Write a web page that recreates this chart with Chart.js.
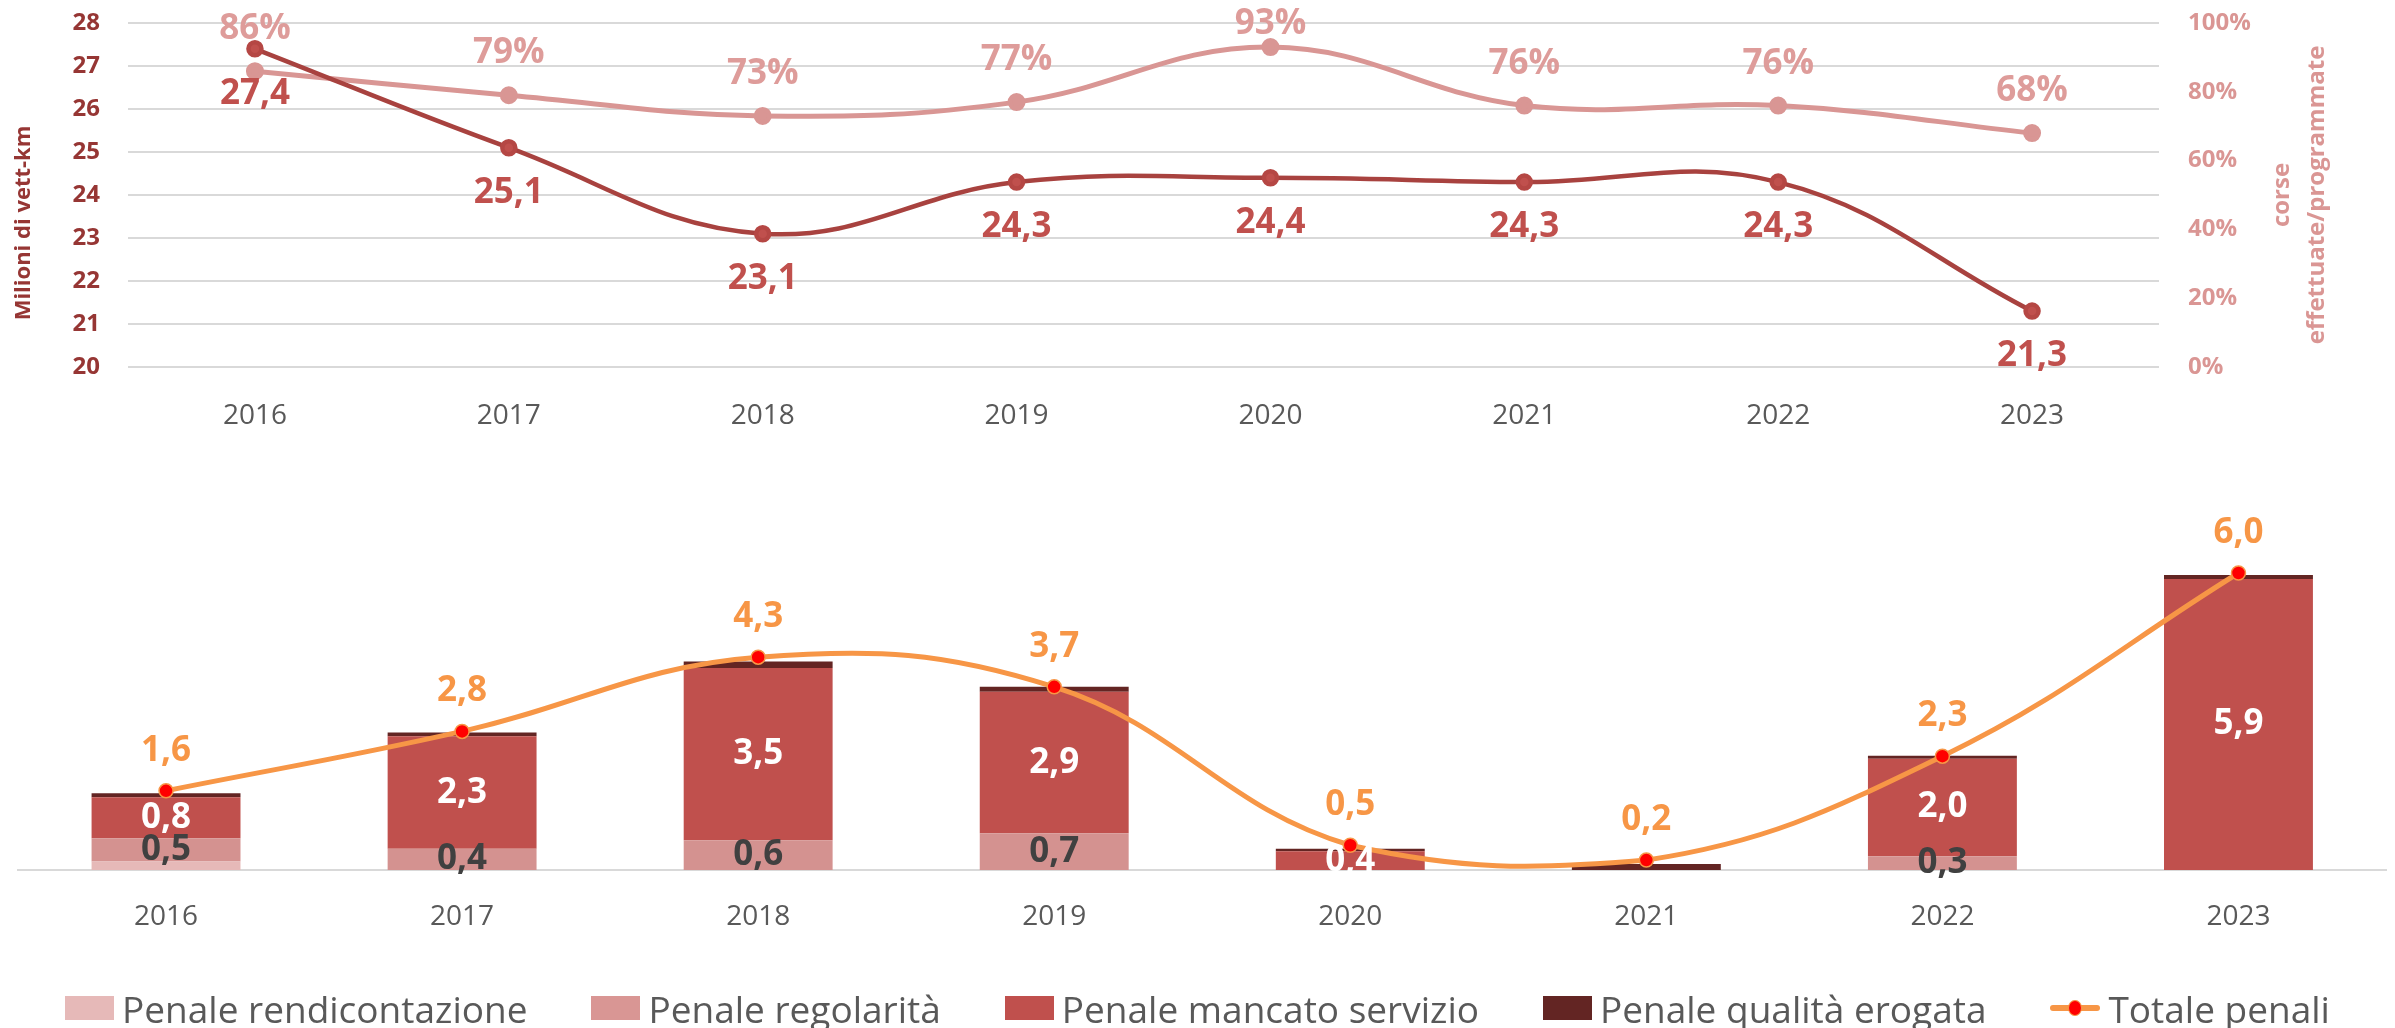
<!DOCTYPE html>
<html lang="it">
<head>
<meta charset="utf-8">
<title>Vett-km e penali</title>
<script src="https://cdn.jsdelivr.net/npm/chart.js@4.4.1/dist/chart.umd.min.js"></script>
<style>
  html, body { margin: 0; padding: 0; background: #fff; }
  body { width: 2395px; height: 1028px; position: relative; overflow: hidden; font-family: "Open Sans", sans-serif; }
  #top { position: absolute; left: 0; top: 0; }
  #bottom { position: absolute; left: 0; top: 440px; }
  #legend { position: absolute; left: 0; top: 985px; width: 2395px; height: 46px; display: flex; justify-content: center; align-items: center; gap: 64px; font-size: 37px; color: #595959; }
  .item { display: flex; align-items: center; gap: 8px; white-space: nowrap; }
  .sw { width: 49px; height: 24px; display: inline-block; }
  .ln { width: 50px; height: 24px; position: relative; display: inline-block; }
  .ln::before { content: ''; position: absolute; left: 0; right: 0; top: 9px; height: 6px; background: #F79646; border-radius: 3px; }
  .ln::after { content: ''; position: absolute; left: 18px; top: 4px; width: 12px; height: 14px; border-radius: 50%; background: #FF0000; border: 1px solid #F79646; }
</style>
</head>
<body>
<canvas id="top" width="2395" height="440"></canvas>
<canvas id="bottom" width="2395" height="545"></canvas>
<div id="legend">
  <span class="item"><span class="sw" style="background:#E6B9B8"></span>Penale rendicontazione</span>
  <span class="item"><span class="sw" style="background:#D99694"></span>Penale regolarità</span>
  <span class="item"><span class="sw" style="background:#C0504D"></span>Penale mancato servizio</span>
  <span class="item"><span class="sw" style="background:#632523"></span>Penale qualità erogata</span>
  <span class="item"><span class="ln"></span>Totale penali</span>
</div>
<script>
// dati
const anni = ['2016', '2017', '2018', '2019', '2020', '2021', '2022', '2023'];
const vettKm = [27.4, 25.1, 23.1, 24.3, 24.4, 24.3, 24.3, 21.3];
const corsePerc = [86, 79, 73, 77, 93, 76, 76, 68];
const kmTicks = [20, 21, 22, 23, 24, 25, 26, 27, 28];
const percTicks = [0, 20, 40, 60, 80, 100];

const penRendicontazione = [0.17, 0, 0, 0, 0, 0, 0, 0];
const penRegolarita = [0.47, 0.43, 0.6, 0.74, 0, 0, 0.28, 0];
const penMancato = [0.83, 2.27, 3.48, 2.86, 0.38, 0, 1.97, 5.88];
const penQualita = [0.08, 0.08, 0.13, 0.1, 0.05, 0.12, 0.06, 0.08];
const totalePenali = [1.6, 2.8, 4.3, 3.7, 0.5, 0.2, 2.3, 6.0];

Chart.defaults.font.family = '"Open Sans", sans-serif';
Chart.defaults.animation = false;

const virgola = v => v.toFixed(1).replace('.', ',');
const noPad = s => { s.paddingTop = 0; s.paddingBottom = 0; };

// etichette sui punti del grafico in alto + titoli degli assi
const etichetteLinee = {
    id: 'etichetteLinee',
    afterDatasetsDraw(chart) {
        const ctx = chart.ctx;
        chart.data.datasets.forEach((ds, i) => {
            const meta = chart.getDatasetMeta(i);
            ctx.save();
            ctx.font = 'bold 35px "Open Sans"';
            ctx.fillStyle = ds.labelColor;
            ctx.textAlign = 'center';
            ctx.textBaseline = 'middle';
            meta.data.forEach((pt, j) => {
                const txt = ds.isPerc ? ds.data[j] + '%' : virgola(ds.data[j]);
                // come in Excel, l'etichetta resta dentro il riquadro
                ctx.fillText(txt, pt.x, Math.max(pt.y + ds.labelOffset, 24));
            });
            ctx.restore();
        });
    },
    afterDraw(chart) {
        const ctx = chart.ctx;
        const ca = chart.chartArea;
        const cy = (ca.top + ca.bottom) / 2;
        ctx.save();
        ctx.textAlign = 'center';
        ctx.textBaseline = 'middle';
        // asse sinistro
        ctx.save();
        ctx.font = 'bold 22px "Open Sans"';
        ctx.fillStyle = '#963634';
        ctx.translate(24, cy + 28);
        ctx.rotate(-Math.PI / 2);
        ctx.fillText('Milioni di vett-km', 0, 0);
        ctx.restore();
        // asse destro, su due righe
        ctx.font = 'bold 24px "Open Sans"';
        ctx.fillStyle = '#DA9694';
        ctx.translate(ca.right + 123, cy);
        ctx.rotate(-Math.PI / 2);
        ctx.fillText('corse', 0, 0);
        ctx.fillText('effettuate/programmate', 0, 35);
        ctx.restore();
    }
};

new Chart(document.getElementById('top'), {
    type: 'line',
    data: {
        labels: anni,
        datasets: [
            {
                label: 'Milioni di vett-km',
                data: vettKm,
                yAxisID: 'yKm',
                borderColor: '#A8423F',
                borderWidth: 4.5,
                pointRadius: 6.5,
                pointBackgroundColor: '#C0504D',
                pointBorderColor: '#B54744',
                tension: 0.4,
                labelColor: '#C0504D',
                labelOffset: 45,
                isPerc: false,
            },
            {
                label: 'corse effettuate/programmate',
                data: corsePerc,
                yAxisID: 'yPerc',
                borderColor: '#D99694',
                borderWidth: 5,
                pointRadius: 6.5,
                pointBackgroundColor: '#D99694',
                pointBorderColor: '#D99694',
                tension: 0.4,
                labelColor: '#DE9C9A',
                labelOffset: -42,
                isPerc: true,
            },
        ],
    },
    options: {
        responsive: false,
        devicePixelRatio: 1,
        layout: { padding: { top: 23, left: 0, right: 0, bottom: 0 } },
        plugins: { legend: { display: false }, tooltip: { enabled: false } },
        scales: {
            x: {
                offset: true,
                grid: { display: false },
                border: { display: false },
                ticks: { color: '#595959', font: { size: 28 }, padding: 24 },
                afterFit: s => { s.height = 73; },
            },
            yKm: {
                position: 'left',
                min: 20,
                max: 28,
                afterBuildTicks: s => { s.ticks = kmTicks.map(v => ({ value: v })); },
                grid: { color: '#D9D9D9', lineWidth: 2, drawTicks: false },
                border: { display: false },
                ticks: { color: '#963634', font: { size: 24, weight: 'bold' }, padding: 28 },
                afterFit: s => { s.width = 128; noPad(s); },
            },
            yPerc: {
                position: 'right',
                min: 0,
                max: 100,
                afterBuildTicks: s => { s.ticks = percTicks.map(v => ({ value: v })); },
                grid: { display: false, drawTicks: false },
                border: { display: false },
                ticks: { color: '#DA9694', font: { size: 24, weight: 'bold' }, padding: 29, callback: v => v + '%' },
                afterFit: s => { s.width = 236; noPad(s); },
            },
        },
    },
    plugins: [etichetteLinee],
});

// etichette del grafico delle penali
const etichettePenali = {
    id: 'etichettePenali',
    afterDatasetsDraw(chart) {
        const ctx = chart.ctx;
        chart.data.datasets.forEach((ds, i) => {
            if (!ds.labelColor) return;
            const meta = chart.getDatasetMeta(i);
            ctx.save();
            ctx.font = 'bold 35px "Open Sans"';
            ctx.fillStyle = ds.labelColor;
            ctx.textAlign = 'center';
            ctx.textBaseline = 'middle';
            meta.data.forEach((el, j) => {
                const v = ds.data[j];
                if (!v) return;
                const y = ds.type === 'line' ? el.y - 40 : (el.y + el.base) / 2;
                ctx.fillText(virgola(v), el.x, y);
            });
            ctx.restore();
        });
    }
};

new Chart(document.getElementById('bottom'), {
    type: 'bar',
    data: {
        labels: anni,
        datasets: [
            { label: 'Penale rendicontazione', data: penRendicontazione, backgroundColor: '#E6B9B8', stack: 'p', order: 1 },
            { label: 'Penale regolarità', data: penRegolarita, backgroundColor: '#D49290', stack: 'p', order: 1, labelColor: '#404040' },
            { label: 'Penale mancato servizio', data: penMancato, backgroundColor: '#C0504D', stack: 'p', order: 1, labelColor: '#FFFFFF' },
            { label: 'Penale qualità erogata', data: penQualita, backgroundColor: '#632523', stack: 'p', order: 1 },
            {
                type: 'line',
                label: 'Totale penali',
                data: totalePenali,
                stack: 't',
                order: 0,
                borderColor: '#F79646',
                borderWidth: 5,
                pointRadius: 7,
                pointBackgroundColor: '#FF0000',
                pointBorderColor: '#F79646',
                pointBorderWidth: 1.5,
                tension: 0.4,
                labelColor: '#F79646',
            },
        ],
    },
    options: {
        responsive: false,
        devicePixelRatio: 1,
        layout: { padding: { top: 83.5, left: 18, right: 7, bottom: 0 } },
        plugins: { legend: { display: false }, tooltip: { enabled: false } },
        datasets: { bar: { categoryPercentage: 1, barPercentage: 0.503 } },
        scales: {
            x: {
                stacked: true,
                grid: { display: false },
                border: { display: true, color: '#D9D9D9', width: 2 },
                ticks: { color: '#595959', font: { size: 28 }, padding: 22 },
                afterFit: s => { s.height = 115; },
            },
            y: {
                stacked: true,
                display: false,
                min: 0,
                max: 7,
            },
        },
    },
    plugins: [etichettePenali],
});
</script>
</body>
</html>
